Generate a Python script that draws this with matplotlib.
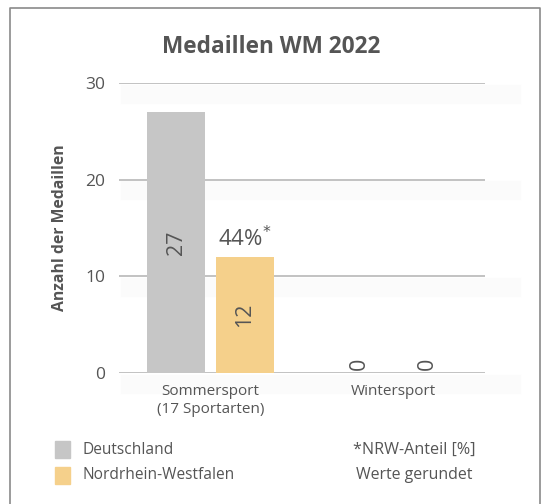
import matplotlib.pyplot as plt
import numpy as np

plt.rcParams["font.family"] = ["Open Sans", "DejaVu Sans"]

categories = ["Sommersport\n(17 Sportarten)", "Wintersport"]
deutschland = [27, 0]
nrw = [12, 0]
nrw_share = ["44%", None]
y_ticks = [0, 10, 20, 30]

TEXT = "#555555"
GREY = "#c6c6c6"
YELLOW = "#f5d08b"

fig = plt.figure(figsize=(5.42, 5.04), dpi=100)
ax = fig.add_axes([0.2196, 0.2599, 0.6752, 0.5754])

x = np.arange(len(categories))
w = 0.315
off = 0.1875
b1 = ax.bar(x - off, deutschland, w, color=GREY, zorder=2)
b2 = ax.bar(x + off, nrw, w, color=YELLOW, zorder=2)

for bars, vals in ((b1, deutschland), (b2, nrw)):
    for bar, v in zip(bars, vals):
        cx = bar.get_x() + bar.get_width() / 2
        yy = v / 2 if v > 0 else 1.0
        ax.text(cx, yy, str(v), rotation=90, ha="center", va="center",
                fontsize=15.5, color=TEXT, zorder=3)

for bar, s in zip(b2, nrw_share):
    if s:
        cx = bar.get_x() + bar.get_width() / 2
        ax.text(cx, bar.get_height() + 0.6, s + r"$^{*}$", ha="center",
                va="bottom", fontsize=16, color=TEXT)

ax.set_xlim(-0.5, 1.5)
ax.set_ylim(0, 30)
ax.set_yticks(y_ticks)
ax.set_xticks(x)
ax.set_xticklabels(categories, fontsize=11, color=TEXT, linespacing=1.3)
ax.tick_params(axis="both", length=0, colors=TEXT)
ax.tick_params(axis="y", labelsize=12.5, pad=10)
ax.tick_params(axis="x", pad=8)
ax.grid(axis="y", color="#c2c2c2", linewidth=1.4, zorder=1)
# very faint shadow under each grid line
for t in y_ticks:
    ax.axhline(t - 1.1, xmin=0.03, xmax=1.07, color="#fbfbfb",
               linewidth=14, zorder=0, clip_on=False)
for sp in ax.spines.values():
    sp.set_visible(False)
ax.set_ylabel("Anzahl der Medaillen", fontsize=11.3, fontweight="bold",
              color=TEXT, labelpad=12)

fig.text(0.5, 0.906, "Medaillen WM 2022", ha="center", va="center",
         fontsize=16.3, fontweight="bold", color=TEXT)

# legend
for yy, col, lab in ((0.108, GREY, "Deutschland"), (0.057, YELLOW, "Nordrhein-Westfalen")):
    fig.patches.append(plt.Rectangle((0.1015, yy - 0.0165), 0.028, 0.033,
                                     color=col, transform=fig.transFigure))
    fig.text(0.152, yy, lab, ha="left", va="center", fontsize=11.2, color=TEXT)
fig.text(0.765, 0.108, "*NRW-Anteil [%]", ha="center", va="center", fontsize=11.6, color=TEXT)
fig.text(0.765, 0.057, "Werte gerundet", ha="center", va="center", fontsize=11.4, color=TEXT)

# frame
fig.lines.append(plt.Line2D([0.019, 0.019, 0.996, 0.996], [0.0, 0.984, 0.984, 0.0],
                            color="#8a8a8a", linewidth=1.2, transform=fig.transFigure))

fig.savefig("out.png", dpi=100)
